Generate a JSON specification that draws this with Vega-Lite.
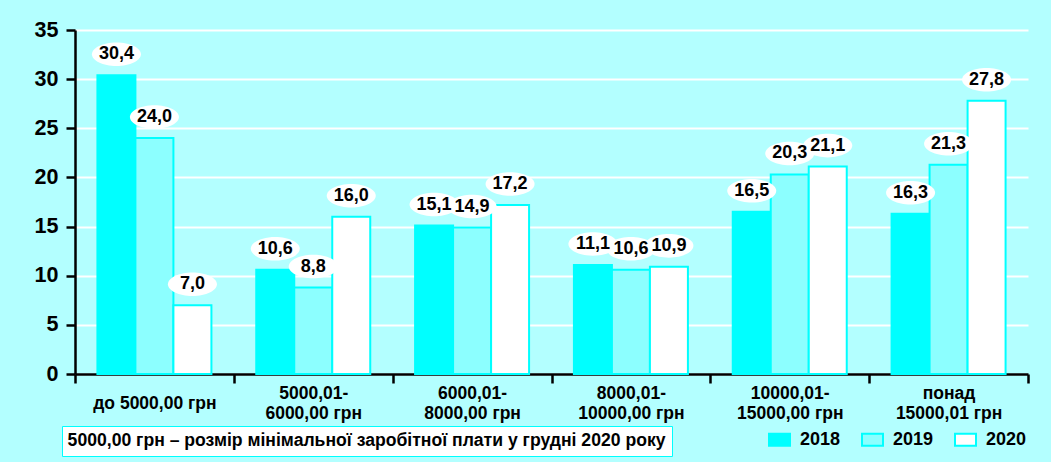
{
  "$schema": "https://vega.github.io/schema/vega-lite/v6.json",
  "width": 953,
  "height": 344,
  "autosize": {"type": "none"},
  "padding": {"left": 75, "top": 30, "right": 23, "bottom": 88},
  "background": "#B3FFFF",
  "config": {
    "locale": {"number": {"decimal": ",", "thousands": " ", "grouping": [3], "currency": ["", ""]}},
    "view": {"stroke": null},
    "font": "Liberation Sans",
    "axis": {
      "domainColor": "black",
      "domainWidth": 2.5,
      "tickColor": "black",
      "tickWidth": 2.5,
      "tickSize": 9,
      "gridColor": "white",
      "gridWidth": 2,
      "gridOpacity": 1,
      "labelFont": "Liberation Sans",
      "labelFontWeight": "bold",
      "labelColor": "black",
      "title": null
    }
  },
  "data": {
    "values": [
      {"category": "до 5000,00 грн", "year": "2018", "value": 30.4},
      {"category": "до 5000,00 грн", "year": "2019", "value": 24.0},
      {"category": "до 5000,00 грн", "year": "2020", "value": 7.0},
      {"category": "5000,01-\n6000,00 грн", "year": "2018", "value": 10.6},
      {"category": "5000,01-\n6000,00 грн", "year": "2019", "value": 8.8},
      {"category": "5000,01-\n6000,00 грн", "year": "2020", "value": 16.0},
      {"category": "6000,01-\n8000,00 грн", "year": "2018", "value": 15.1},
      {"category": "6000,01-\n8000,00 грн", "year": "2019", "value": 14.9},
      {"category": "6000,01-\n8000,00 грн", "year": "2020", "value": 17.2},
      {"category": "8000,01-\n10000,00 грн", "year": "2018", "value": 11.1},
      {"category": "8000,01-\n10000,00 грн", "year": "2019", "value": 10.6},
      {"category": "8000,01-\n10000,00 грн", "year": "2020", "value": 10.9},
      {"category": "10000,01-\n15000,00 грн", "year": "2018", "value": 16.5},
      {"category": "10000,01-\n15000,00 грн", "year": "2019", "value": 20.3},
      {"category": "10000,01-\n15000,00 грн", "year": "2020", "value": 21.1},
      {"category": "понад\n15000,01 грн", "year": "2018", "value": 16.3},
      {"category": "понад\n15000,01 грн", "year": "2019", "value": 21.3},
      {"category": "понад\n15000,01 грн", "year": "2020", "value": 27.8}
    ]
  },
  "layer": [
    {
      "mark": {"type": "bar", "stroke": "#00FFFF", "strokeWidth": 2},
      "encoding": {
        "x": {
          "field": "category", "type": "nominal", "sort": null,
          "scale": {"paddingInner": 0, "paddingOuter": 0},
          "axis": {
            "labelAngle": 0, "tickBand": "extent", "labelExpr": "split(datum.label, '\\n')",
            "labelFontSize": 17.5, "labelLineHeight": 20, "labelBaseline": "middle",
            "labelPadding": {"condition": {"test": "datum.value == 'до 5000,00 грн'", "value": 20}, "value": 10},
            "labelLimit": 300
          }
        },
        "xOffset": {"field": "year", "type": "nominal", "scale": {"paddingInner": 0, "paddingOuter": 0.59}},
        "y": {
          "field": "value", "type": "quantitative",
          "scale": {"domain": [0, 35], "nice": false},
          "axis": {"values": [0, 5, 10, 15, 20, 25, 30, 35], "labelFontSize": 21.5, "labelPadding": 8}
        },
        "fill": {
          "field": "year", "type": "nominal",
          "scale": {"domain": ["2018", "2019", "2020"], "range": ["#00FFFF", "#8CFFFF", "#FFFFFF"]},
          "legend": {
            "title": null, "orient": "none", "legendX": 693, "legendY": 398, "direction": "horizontal",
            "columns": 3, "symbolType": "M-1,-0.57H1V0.57H-1Z", "symbolSize": 441,
            "symbolStrokeColor": "#00FFFF", "symbolStrokeWidth": 2, "labelFontSize": 18,
            "labelFontWeight": "bold", "labelColor": "black", "labelOffset": 9, "columnPadding": 17, "padding": 0
          }
        }
      }
    },
    {
      "mark": {
        "type": "point", "shape": "M-1,0A1,0.48 0 1,0 1,0A1,0.48 0 1,0 -1,0Z",
        "filled": true, "fill": "white", "opacity": 1, "size": 2401, "yOffset": -21, "strokeWidth": 0
      },
      "encoding": {
        "x": {"field": "category", "type": "nominal", "sort": null},
        "xOffset": {"field": "year", "type": "nominal"},
        "y": {"field": "value", "type": "quantitative"}
      }
    },
    {
      "mark": {"type": "text", "fontSize": 18, "fontWeight": "bold", "baseline": "middle", "yOffset": -21, "color": "black"},
      "encoding": {
        "x": {"field": "category", "type": "nominal", "sort": null},
        "xOffset": {"field": "year", "type": "nominal"},
        "y": {"field": "value", "type": "quantitative"},
        "text": {"field": "value", "type": "quantitative", "format": ".1f"}
      }
    },
    {
      "data": {"values": [{"note": "5000,00 грн – розмір мінімальної заробітної плати у грудні 2020 року"}]},
      "mark": {"type": "point", "opacity": 0},
      "encoding": {
        "shape": {
          "field": "note", "type": "nominal",
          "legend": {
            "title": null, "orient": "none", "legendX": -13, "legendY": 396,
            "symbolSize": 0, "symbolStrokeWidth": 0, "symbolOpacity": 0, "labelOffset": -18,
            "labelFontSize": 17.6, "labelFontWeight": "bold", "labelColor": "black", "labelLimit": 800,
            "padding": 6, "fillColor": "white", "strokeColor": "#00FFFF",
            "encode": {"legend": {"update": {"strokeWidth": {"value": 3}}}}
          }
        }
      }
    }
  ]
}
